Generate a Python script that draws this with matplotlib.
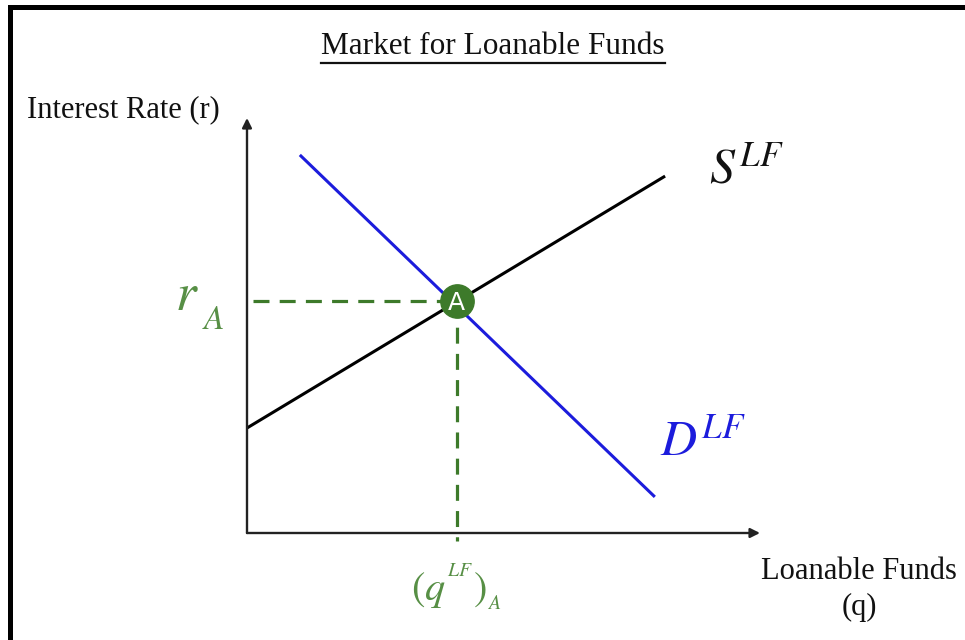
import matplotlib.pyplot as plt
from matplotlib.lines import Line2D

# ------------------------------
# Data (axis units 0-10)
# ------------------------------
supply_x = [0.0, 8.15]
supply_y = [2.53, 8.6]
demand_x = [1.03, 7.95]
demand_y = [9.11, 0.87]
eq_x = 4.09
eq_y = 5.59

green = "#3d7a2a"
label_green = "#578f45"
blue = "#1c1cdc"

plt.rcParams['mathtext.fontset'] = 'stix'
W, H = 965, 640
fig = plt.figure(figsize=(W / 100, H / 100), dpi=100)

# axes box from the origin (247, 533) to the arrow tips
ax = fig.add_axes([247 / W, (H - 533) / H, 513 / W, 415 / H])
ax.set_xlim(0, 10)
ax.set_ylim(0, 10)
ax.axis('off')

# axes with arrows
ax.annotate('', xy=(10, 0), xytext=(0, 0),
            arrowprops=dict(arrowstyle='-|>', color='#222222', lw=1.7,
                            mutation_scale=14, shrinkA=0, shrinkB=0),
            annotation_clip=False)
ax.annotate('', xy=(0, 10), xytext=(0, 0),
            arrowprops=dict(arrowstyle='-|>', color='#222222', lw=1.7,
                            mutation_scale=14, shrinkA=0, shrinkB=0),
            annotation_clip=False)

# curves
ax.plot(supply_x, supply_y, color='black', lw=2.2, solid_capstyle='butt')
ax.plot(demand_x, demand_y, color=blue, lw=2.2, solid_capstyle='butt')

# dashed guides
ax.plot([0.12, eq_x], [eq_y, eq_y], color=green, lw=2.3, dashes=(5, 3.2),
        clip_on=False)
ax.plot([eq_x, eq_x], [eq_y, -0.2], color=green, lw=2.3, dashes=(5, 3.2),
        clip_on=False)

# equilibrium point
ax.plot([eq_x], [eq_y], 'o', ms=24, color=green, mec=green, zorder=5)
ax.text(eq_x, eq_y - 0.05, 'A', color='white', fontsize=18, ha='center',
        va='center', family='DejaVu Sans', zorder=6)

# curve labels
ax.text(9.0, 8.75, r'$S^{LF}$', fontsize=36, color='#111111',
        ha='left', va='center', clip_on=False)
ax.text(8.05, 2.2, r'$D^{LF}$', fontsize=36, color=blue,
        ha='left', va='center', clip_on=False)

# point labels
ax.text(-1.17, eq_y + 0.15, r'$r$', fontsize=38, color=label_green,
        ha='center', va='center', clip_on=False)
ax.text(-0.66, eq_y - 0.45, r'$A$', fontsize=24, color=label_green,
        ha='center', va='center', clip_on=False)
ax.text(eq_x - 0.02, -1.3, r'$(q^{^{LF}})_{_A}$', fontsize=29, color=label_green,
        ha='center', va='center', clip_on=False)

# axis titles
fig.text(123 / W, 1 - 110 / H, 'Interest Rate (r)', fontsize=22,
         family='Liberation Serif', ha='center', va='center', color='#111111')
fig.text(859 / W, 1 - 557 / H, 'Loanable Funds\n(q)', fontsize=22,
         family='Liberation Serif', ha='center', va='top', color='#111111',
         linespacing=1.32)

# title with underline
title = fig.text(493 / W, 1 - 47 / H, 'Market for Loanable Funds', fontsize=22.5,
                 family='Liberation Serif', ha='center', va='center',
                 color='#111111')
r = fig.canvas.get_renderer()
bb = title.get_window_extent(r)
fig.add_artist(Line2D([bb.x0 / W, bb.x1 / W], [(bb.y0 - 1) / H, (bb.y0 - 1) / H],
                      color='#111111', lw=1.6))

# frame (top and left edges)
fig.add_artist(Line2D([9.5 / W, 1], [1 - 6.5 / H, 1 - 6.5 / H],
                      color='black', lw=3.6, solid_capstyle='projecting'))
fig.add_artist(Line2D([9.5 / W, 9.5 / W], [0, 1 - 6.5 / H],
                      color='black', lw=3.6, solid_capstyle='projecting'))

fig.savefig('out.png', dpi=100)
